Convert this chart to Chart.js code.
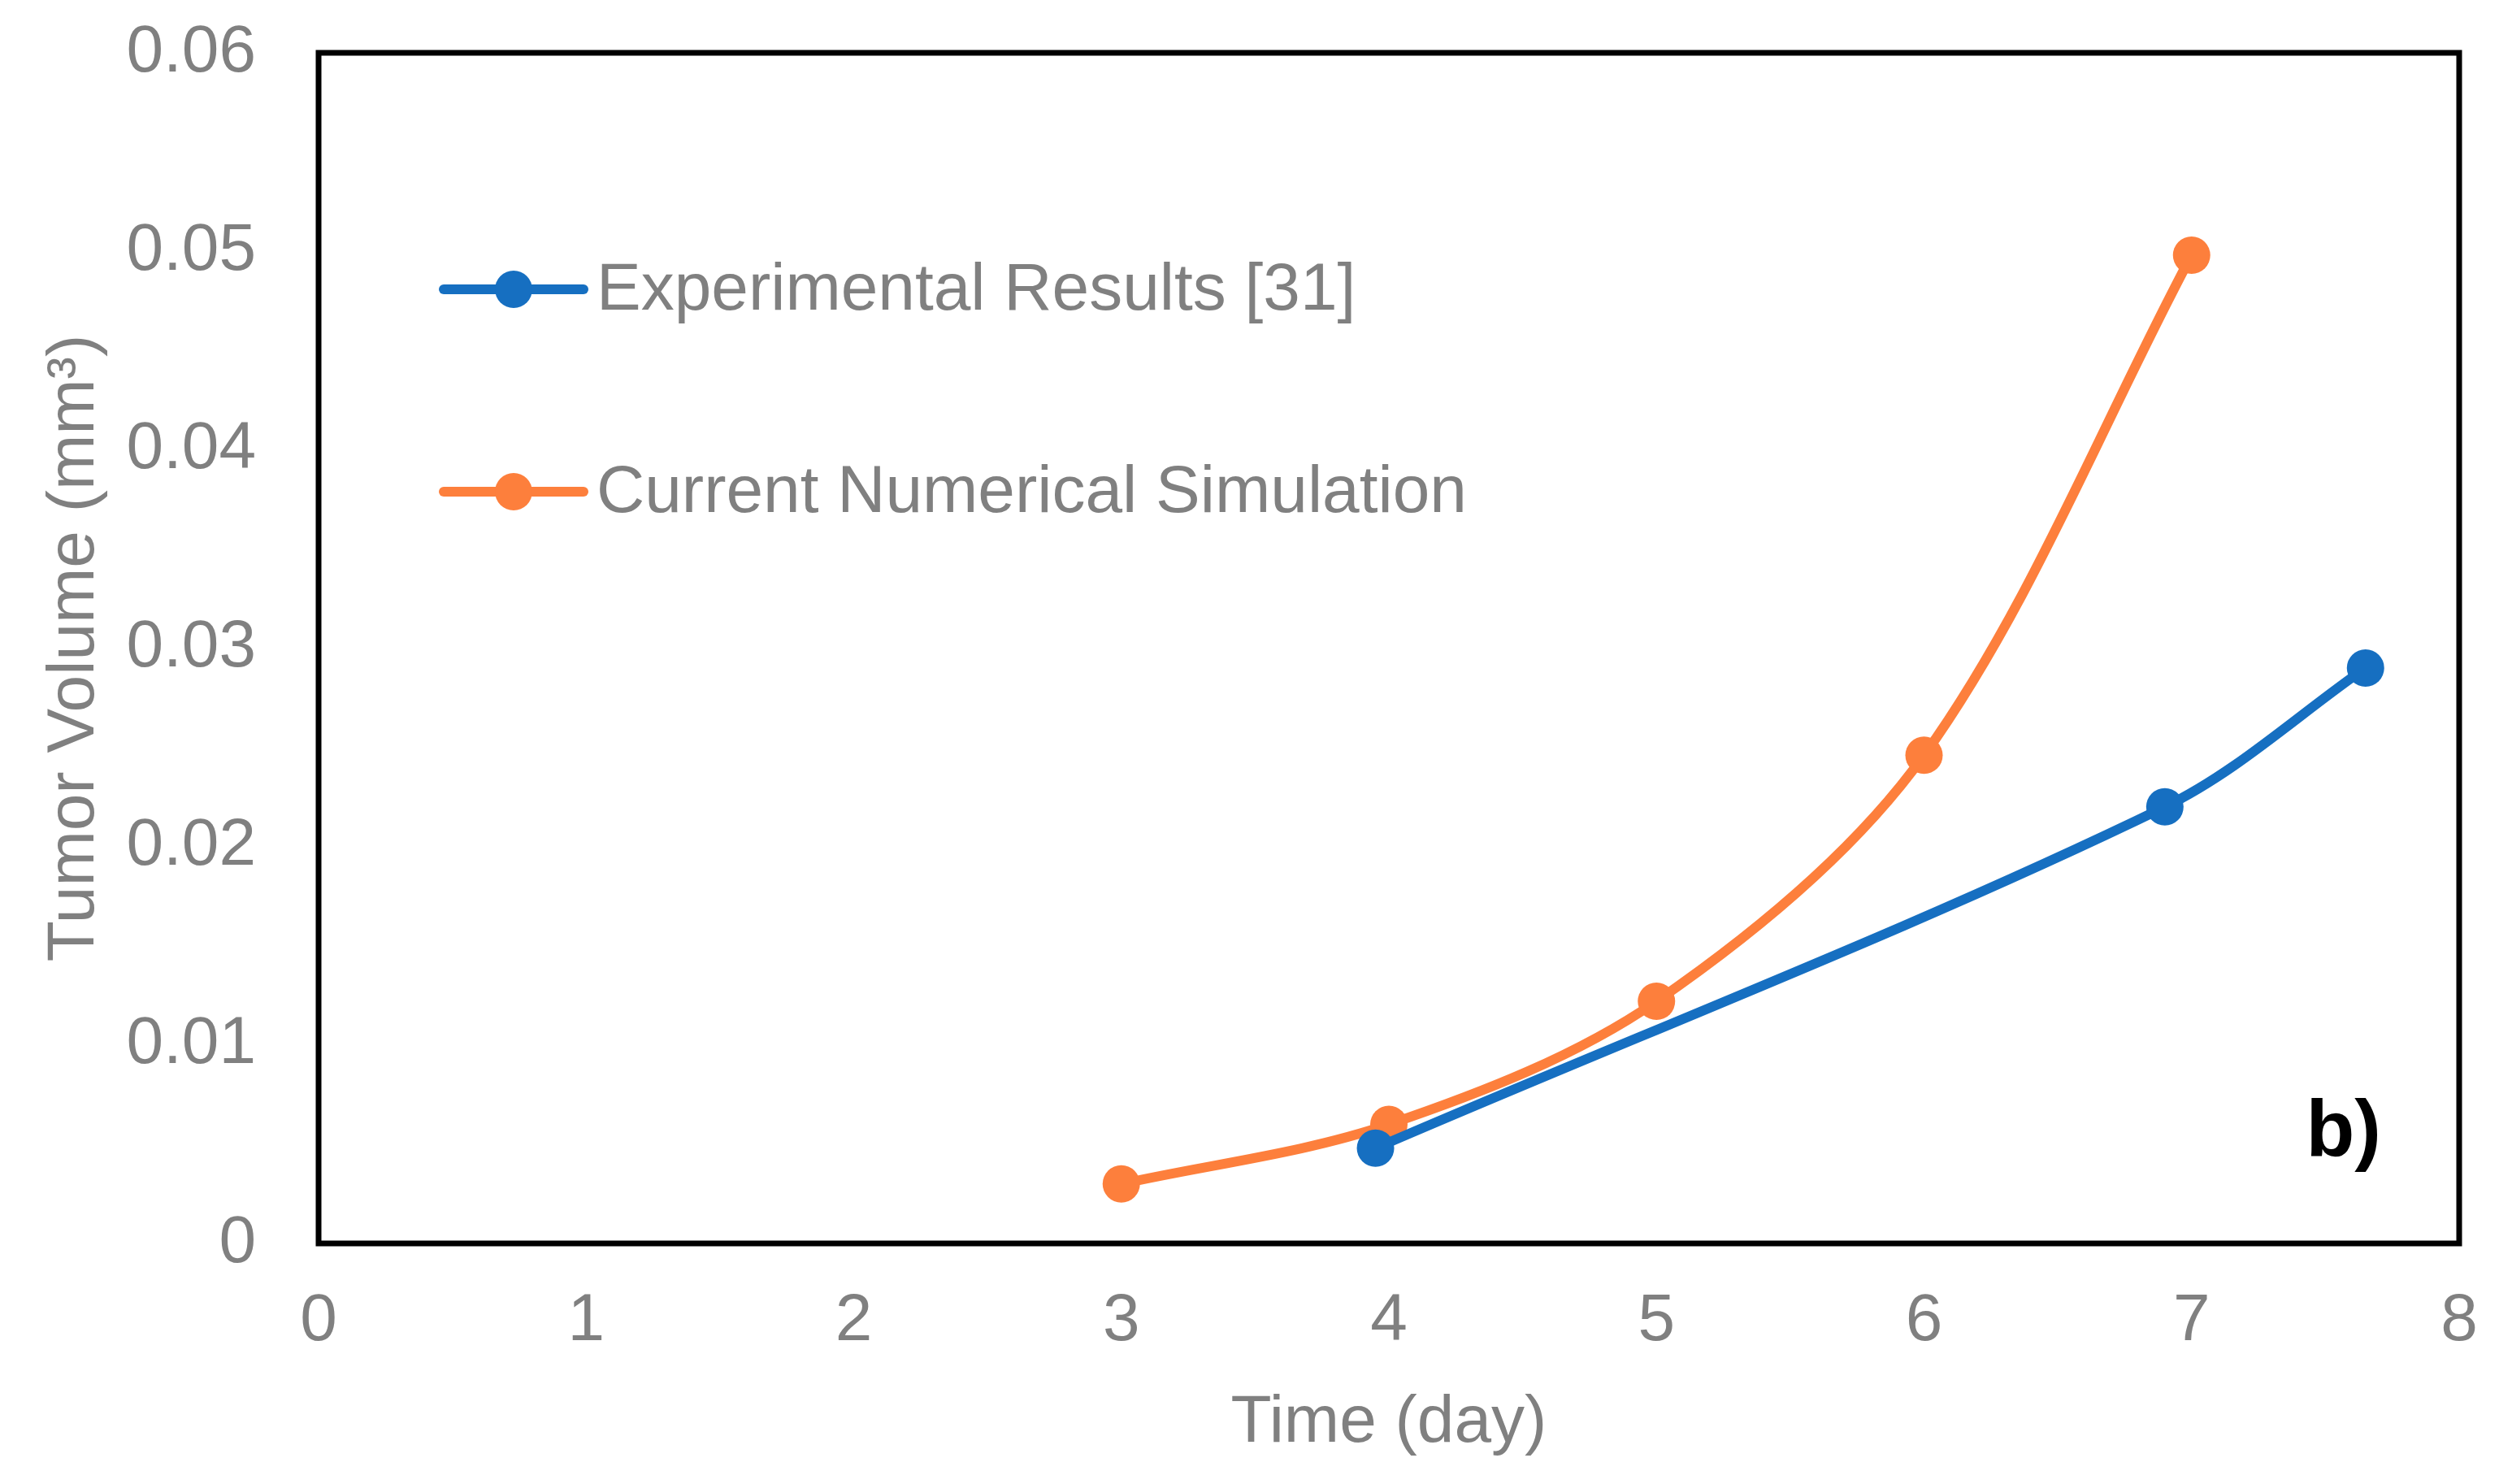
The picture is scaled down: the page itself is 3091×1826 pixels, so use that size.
<!DOCTYPE html>
<html>
<head>
<meta charset="utf-8">
<script src="https://cdn.jsdelivr.net/npm/chart.js@4"></script>
<style>
  html, body { margin: 0; padding: 0; background: #fff; }
  canvas { display: block; }
</style>
</head>
<body>
<canvas id="myChart" width="3091" height="1826"></canvas>
<script>
// data
const expDays = [3.95, 6.9, 7.65];
const expVolume = [0.0048, 0.0220, 0.0290];
const simDays = [3, 4, 5, 6, 7];
const simVolume = [0.0030, 0.0060, 0.0122, 0.0246, 0.0498];

const xTickLabels = ['0', '1', '2', '3', '4', '5', '6', '7', '8'];
const yTickLabels = ['0', '0.01', '0.02', '0.03', '0.04', '0.05', '0.06'];

const seriesNames = ['Experimental Results [31]', 'Current Numerical Simulation'];
const seriesColors = ['#166fc1', '#fd7f3c'];

const grey = '#808080';
const font = 'Liberation Sans, Arial, sans-serif';

const toPoints = (xs, ys) => xs.map((x, i) => ({ x: x, y: ys[i] }));

// frame around the plot, inside legend and the "b)" tag
const extras = {
    id: 'extras',
    afterDraw(chart) {
        const ctx = chart.ctx;
        const a = chart.chartArea;
        ctx.save();
        ctx.strokeStyle = '#000';
        ctx.lineWidth = 7;
        ctx.strokeRect(a.left, a.top, a.right - a.left, a.bottom - a.top);

        // legend
        const rows = [a.top + 291, a.top + 540];
        chart.data.datasets.forEach((ds, i) => {
            const y = rows[i];
            const x0 = a.left + 154;
            ctx.strokeStyle = ds.borderColor;
            ctx.lineWidth = 12;
            ctx.lineCap = 'round';
            ctx.beginPath();
            ctx.moveTo(x0, y);
            ctx.lineTo(x0 + 172, y);
            ctx.stroke();
            ctx.fillStyle = ds.borderColor;
            ctx.beginPath();
            ctx.arc(x0 + 86, y, 23, 0, Math.PI * 2);
            ctx.fill();
            ctx.fillStyle = grey;
            ctx.font = '82px ' + font;
            ctx.textAlign = 'left';
            ctx.textBaseline = 'middle';
            ctx.fillText(ds.label, x0 + 188, y + 2);
        });

        ctx.fillStyle = '#000';
        ctx.font = 'bold 98px ' + font;
        ctx.textAlign = 'right';
        ctx.textBaseline = 'alphabetic';
        ctx.fillText('b)', a.right - 96, a.bottom - 108);
        ctx.restore();
    }
};

const ctx = document.getElementById('myChart').getContext('2d');
const myChart = new Chart(ctx, {
    type: 'line',
    data: {
        datasets: [{
            label: seriesNames[0],
            data: toPoints(expDays, expVolume),
            borderColor: seriesColors[0],
            backgroundColor: seriesColors[0],
            borderWidth: 12,
            pointRadius: 23,
            pointBorderWidth: 0,
            tension: 0.33,
        }, {
            label: seriesNames[1],
            data: toPoints(simDays, simVolume),
            borderColor: seriesColors[1],
            backgroundColor: seriesColors[1],
            borderWidth: 12,
            pointRadius: 23,
            pointBorderWidth: 0,
            tension: 0.33,
        }]
    },
    options: {
        responsive: false,
        animation: false,
        devicePixelRatio: 1,
        clip: false,
        layout: { padding: { top: 65, right: 65, left: 0, bottom: 0 } },
        plugins: {
            legend: { display: false },
            tooltip: { enabled: false }
        },
        scales: {
            x: {
                type: 'linear',
                min: 0,
                max: 8,
                grid: { display: false, drawTicks: false, tickLength: 0 },
                border: { display: false },
                ticks: {
                    stepSize: 1,
                    padding: 47,
                    color: grey,
                    font: { family: font, size: 82 },
                    callback: (v, i) => xTickLabels[i]
                },
                title: {
                    display: true,
                    text: 'Time (day)',
                    color: grey,
                    font: { family: font, size: 82 },
                    padding: { top: 0, bottom: 25 }
                },
                afterFit: s => {
                    s.height = 296;
                    s.paddingLeft = 0;
                    s.paddingRight = 0;
                }
            },
            y: {
                min: 0,
                max: 0.06,
                grid: { display: false, drawTicks: false, tickLength: 0 },
                border: { display: false },
                ticks: {
                    stepSize: 0.01,
                    padding: 77,
                    color: grey,
                    font: { family: font, size: 82 },
                    callback: (v, i) => yTickLabels[i]
                },
                title: {
                    display: true,
                    text: 'Tumor Volume (mm³)',
                    color: grey,
                    font: { family: font, size: 82 },
                    padding: { top: 43, bottom: 0 }
                },
                afterFit: s => {
                    s.width = 392;
                    s.paddingTop = 0;
                    s.paddingBottom = 0;
                }
            }
        }
    },
    plugins: [extras]
});
</script>
</body>
</html>
